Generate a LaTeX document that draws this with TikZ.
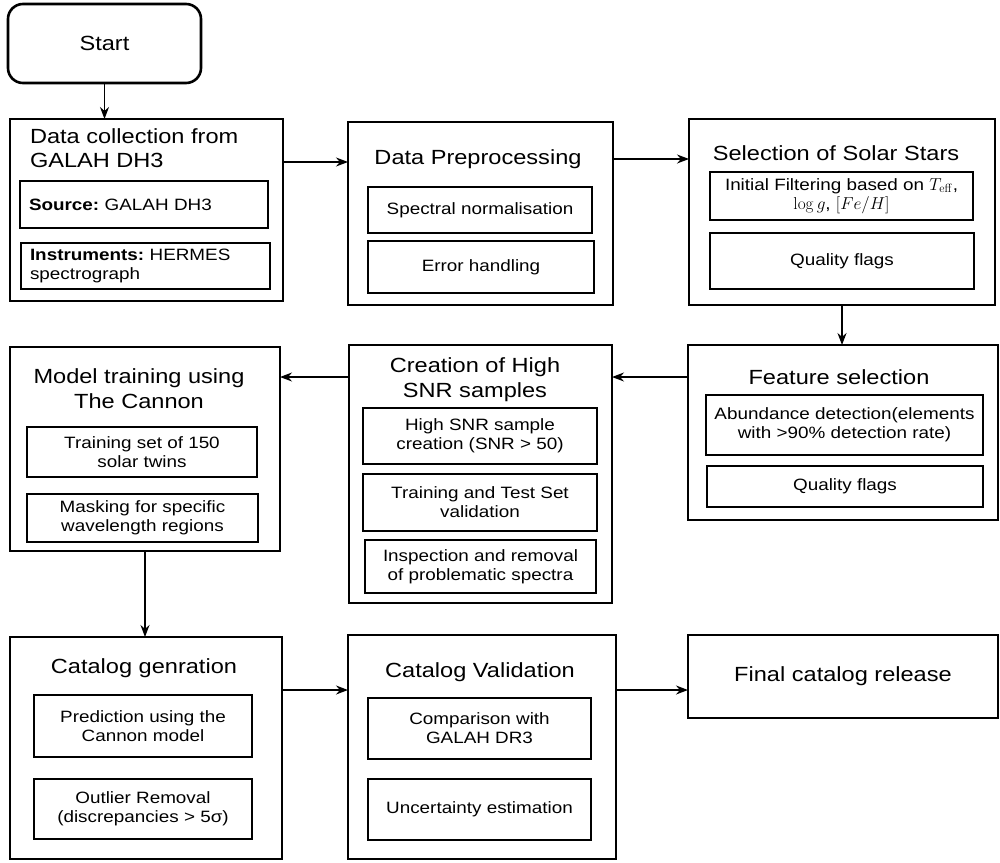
\documentclass[tikz,border=0pt]{standalone}
\usepackage[no-math]{fontspec}
\setmainfont{Liberation Sans}[FakeStretch=1.15]
\usetikzlibrary{
arrows.meta,
}
\tikzset{
outer sep=0pt,
every node/.style={align=center, inner sep=0pt},
terminal/.style={rectangle, rounded corners=15pt, draw, line width=2.6pt},
stage/.style={rectangle, draw, line width=2.6pt},
heading/.style={font=\fontsize{20.5}{24.5}\selectfont},
task/.style={rectangle, draw, line width=1.2pt, font=\fontsize{16.4}{19}\selectfont},
flow/.style={->, line width=1.3pt},
>={Stealth[length=12pt, width=9pt]},
}
\frenchspacing

\begin{document}
\begin{tikzpicture}[x=1pt, y=-1pt]
\useasboundingbox (0,0) rectangle (1000,862);
% outer stages
\node (start) [terminal, heading, minimum width=193pt, minimum height=79pt] at (104.5,43.5) {Start};
\node (dc) [stage, minimum width=273pt, minimum height=182pt] at (146.5,210) {};
\node (dp) [stage, minimum width=265pt, minimum height=183pt] at (480.5,213.5) {};
\node (ss) [stage, minimum width=306pt, minimum height=186pt] at (842,212) {};
\node (fs) [stage, minimum width=310pt, minimum height=175pt] at (843,432.5) {};
\node (cr) [stage, minimum width=263pt, minimum height=258pt] at (480.5,474) {};
\node (mt) [stage, minimum width=270pt, minimum height=204pt] at (145,449) {};
\node (cg) [stage, minimum width=272pt, minimum height=222pt] at (146,748) {};
\node (cv) [stage, minimum width=268pt, minimum height=224pt] at (482,747) {};
\node (fr) [stage, heading, minimum width=310pt, minimum height=83pt] at (843,676.5) {Final catalog release};
% stage titles
\node (dctitle) [heading, anchor=west, align=left] at (30,148) {Data collection from\\GALAH DH3};
\node (dptitle) [heading, anchor=base] at (478,164) {Data Preprocessing};
\node (sstitle) [heading, anchor=base] at (836,160) {Selection of Solar Stars};
\node (fstitle) [heading, anchor=base] at (839,384) {Feature selection};
\node (crtitle) [heading] at (475,379.5) {Creation of High\\SNR samples};
\node (mttitle) [heading] at (139,388.5) {Model training using\\The Cannon};
\node (cgtitle) [heading, anchor=base] at (144,673) {Catalog genration};
\node (cvtitle) [heading, anchor=base] at (480,677) {Catalog Validation};
% tasks inside the stages
\node (dc1) [task, align=left, text width=230pt, inner xsep=9pt, minimum height=47pt] at (144,204.5) {\textbf{Source:} GALAH DH3};
\node (dc2) [task, align=left, text width=231pt, inner xsep=9pt, minimum height=46pt] at (145.5,266) {\textbf{Instruments:} HERMES\\spectrograph};
\node (dp1) [task, minimum width=224pt, minimum height=46pt] at (480,210) {Spectral normalisation};
\node (dp2) [task, minimum width=226pt, minimum height=52pt] at (481,267) {Error handling};
\node (ss1) [task, minimum width=263pt, minimum height=48pt] at (841.5,196) {Initial Filtering based on $T_{\mathrm{eff}}$,\\$\log g$, $[Fe/H]$};
\node (ss2) [task, minimum width=264pt, minimum height=56pt] at (842,261) {Quality flags};
\node (fs1) [task, minimum width=277pt, minimum height=60pt] at (844.5,425) {Abundance detection(elements\\with >90\% detection rate)};
\node (fs2) [task, minimum width=276pt, minimum height=41pt] at (845,486.5) {Quality flags};
\node (cr1) [task, minimum width=234pt, minimum height=56pt] at (480,436) {High SNR sample\\creation (SNR > 50)};
\node (cr2) [task, minimum width=234pt, minimum height=57pt] at (480,502.5) {Training and Test Set\\validation};
\node (cr3) [task, minimum width=231pt, minimum height=53pt] at (480.5,566.5) {Inspection and removal\\of problematic spectra};
\node (mt1) [task, minimum width=230pt, minimum height=50pt] at (142,452) {Training set of 150\\solar twins};
\node (mt2) [task, minimum width=231pt, minimum height=48pt] at (142.5,518) {Masking for specific\\wavelength regions};
\node (cg1) [task, minimum width=218pt, minimum height=62pt] at (143,726) {Prediction using the\\Cannon model};
\node (cg2) [task, minimum width=218pt, minimum height=60pt] at (143,809) {Outlier Removal\\(discrepancies > 5σ)};
\node (cv1) [task, minimum width=223pt, minimum height=61pt] at (479.5,728.5) {Comparison with\\GALAH DR3};
\node (cv2) [task, minimum width=223pt, minimum height=61pt] at (479.5,809.5) {Uncertainty estimation};
% connectors
\draw [flow] (start.south) -- (start.south |- dc.north);
\draw [flow] ([yshift=48pt]dc.east) -- ([yshift=51.5pt]dp.west);
\draw [flow] ([yshift=54.5pt]dp.east) -- ([yshift=53pt]ss.west);
\draw [flow] (ss.south) -- (ss.south |- fs.north);
\draw [flow] ([yshift=55.5pt]fs.west) -- ([yshift=97pt]cr.east);
\draw [flow] ([yshift=97pt]cr.west) -- ([yshift=72pt]mt.east);
\draw [flow] (mt.south) -- (mt.south |- cg.north);
\draw [flow] ([yshift=58pt]cg.east) -- ([yshift=57pt]cv.west);
\draw [flow] ([yshift=57pt]cv.east) -- ([yshift=-13.5pt]fr.west);
\end{tikzpicture}
\end{document}
